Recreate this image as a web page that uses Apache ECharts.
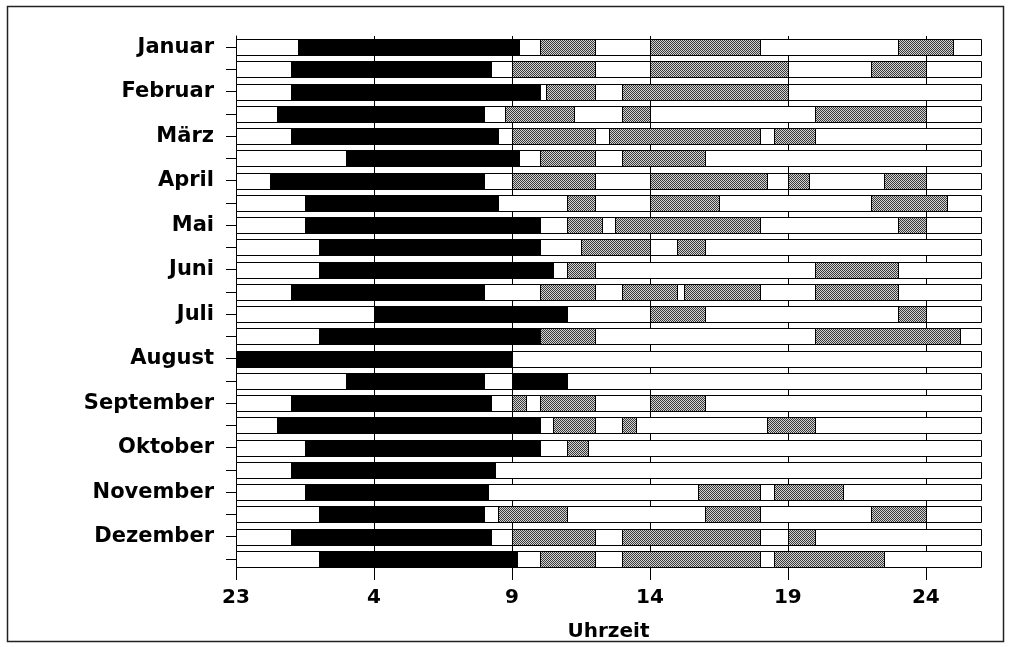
<!DOCTYPE html>
<html>
<head>
<meta charset="utf-8">
<title>Schlaf- und Aktivitätszeiten</title>
<script src="https://cdn.jsdelivr.net/npm/echarts@6/dist/echarts.min.js"></script>
<style>
  html, body { margin: 0; padding: 0; background: #fff; }
  #chart { width: 1011px; height: 647px; }
</style>
</head>
<body>
<div id="chart"></div>
<script>
// Two rows per month; times are hours counted from 23:00 (0 = 23 Uhr, 25 = 24 Uhr next day).
const months = ['Januar', 'Februar', 'März', 'April', 'Mai', 'Juni',
                'Juli', 'August', 'September', 'Oktober', 'November', 'Dezember'];
const hourLabels = ['23', '4', '9', '14', '19', '24'];
const hourTicks = [0, 5, 10, 15, 20, 25];
const spanEnd = 27;

// Schlafphasen (black)
const sleepBlocks = [
  [[2.25, 10.25]], [[2, 9.25]],
  [[2, 11]],       [[1.5, 9]],
  [[2, 9.5]],      [[4, 10.25]],
  [[1.25, 9]],     [[2.5, 9.5]],
  [[2.5, 11]],     [[3, 11]],
  [[3, 11.5]],     [[2, 9]],
  [[5, 12]],       [[3, 11]],
  [[0, 10]],       [[4, 9], [10, 12]],
  [[2, 9.25]],     [[1.5, 11]],
  [[2.5, 11]],     [[2, 9.4]],
  [[2.5, 9.15]],   [[3, 9]],
  [[2, 9.25]],     [[3, 10.2]]
];

// Aktivitätsphasen (hatched)
const activeBlocks = [
  [[11, 13], [15, 19], [24, 26]],
  [[10, 13], [15, 20], [23, 25]],
  [[11.25, 13], [14, 20]],
  [[9.75, 12.25], [14, 15], [21, 25]],
  [[10, 13], [13.5, 19], [19.5, 21]],
  [[11, 13], [14, 17]],
  [[10, 13], [15, 19.25], [20, 20.75], [23.5, 25]],
  [[12, 13], [15, 17.5], [23, 25.75]],
  [[12, 13.25], [13.75, 19], [24, 25]],
  [[12.5, 15], [16, 17]],
  [[12, 13], [21, 24]],
  [[11, 13], [14, 16], [16.25, 19], [21, 24]],
  [[15, 17], [24, 25]],
  [[11, 13], [21, 26.25]],
  [],
  [],
  [[10, 10.5], [11, 13], [15, 17]],
  [[11.5, 13], [14, 14.5], [19.25, 21]],
  [[12, 12.75]],
  [],
  [[16.75, 19], [19.5, 22]],
  [[9.5, 12], [17, 19], [23, 25]],
  [[10, 13], [14, 19], [20, 21]],
  [[11, 13], [14, 19], [19.5, 23.5]]
];

const rowLabels = [];
months.forEach(function (m) { rowLabels.push(m, ''); });

// fine 1px checker hatch
const hatch = document.createElement('canvas');
hatch.width = 2; hatch.height = 2;
const hc = hatch.getContext('2d');
hc.fillStyle = '#d2d2d2';
hc.fillRect(0, 0, 2, 2);
hc.fillStyle = '#3a3a3a';
hc.fillRect(0, 0, 1, 1);
hc.fillRect(1, 1, 1, 1);

const fills = ['#ffffff', '#000000', { image: hatch, repeat: 'repeat' }];

// [row, start, end, kind]: kind 0 = full day frame, 1 = sleep, 2 = activity
const segments = [];
rowLabels.forEach(function (_, r) {
  segments.push([r, 0, spanEnd, 0]);
  sleepBlocks[r].forEach(function (b) { segments.push([r, b[0], b[1], 1]); });
  activeBlocks[r].forEach(function (b) { segments.push([r, b[0], b[1], 2]); });
});

function renderSegment(params, api) {
  const row = api.value(0);
  const a = api.coord([api.value(1), row]);
  const b = api.coord([api.value(2), row]);
  const h = Math.round(api.size([0, 1])[1] * 0.72);
  const x0 = Math.round(a[0]) + 0.5;
  const x1 = Math.round(b[0]) + 0.5;
  const top = Math.round(a[1] - h / 2) + 0.5;
  return {
    type: 'rect',
    shape: { x: x0, y: top, width: x1 - x0, height: h },
    style: { fill: fills[api.value(3)], stroke: '#000', lineWidth: 1 }
  };
}

const font = 'DejaVu Sans';
const chart = echarts.init(document.getElementById('chart'), null, { renderer: 'canvas' });
chart.setOption({
  backgroundColor: '#fff',
  animation: false,
  graphic: [{
    type: 'rect',
    shape: { x: 7.5, y: 6.5, width: 996, height: 635 },
    style: { fill: 'none', stroke: '#222', lineWidth: 1.5 },
    silent: true
  }],
  grid: { left: 236, right: 30, top: 36, bottom: 77 },
  xAxis: {
    type: 'value',
    min: 0,
    max: spanEnd,
    interval: 5,
    name: 'Uhrzeit',
    nameLocation: 'middle',
    nameGap: 52,
    nameTextStyle: { fontFamily: font, fontWeight: 'bold', fontSize: 20, color: '#000' },
    axisLine: { show: false },
    axisTick: { show: true, length: 10, customValues: hourTicks, lineStyle: { color: '#000', width: 1 } },
    axisLabel: {
      customValues: hourTicks,
      margin: 18,
      fontFamily: font, fontWeight: 'bold', fontSize: 20, color: '#000',
      formatter: function (v) { return hourLabels[Math.round(v / 5)]; }
    },
    splitLine: { show: true, lineStyle: { color: '#000', width: 1 } }
  },
  yAxis: {
    type: 'category',
    data: rowLabels,
    inverse: true,
    axisLine: { show: true, lineStyle: { color: '#000', width: 1 } },
    axisTick: { show: true, alignWithLabel: true, interval: 0, length: 10, lineStyle: { color: '#000' } },
    axisLabel: { interval: 0, margin: 22, fontFamily: font, fontWeight: 'bold', fontSize: 21, color: '#000' },
    splitLine: { show: false }
  },
  series: [{
    type: 'custom',
    renderItem: renderSegment,
    encode: { x: [1, 2], y: 0 },
    data: segments
  }]
});
</script>
</body>
</html>
